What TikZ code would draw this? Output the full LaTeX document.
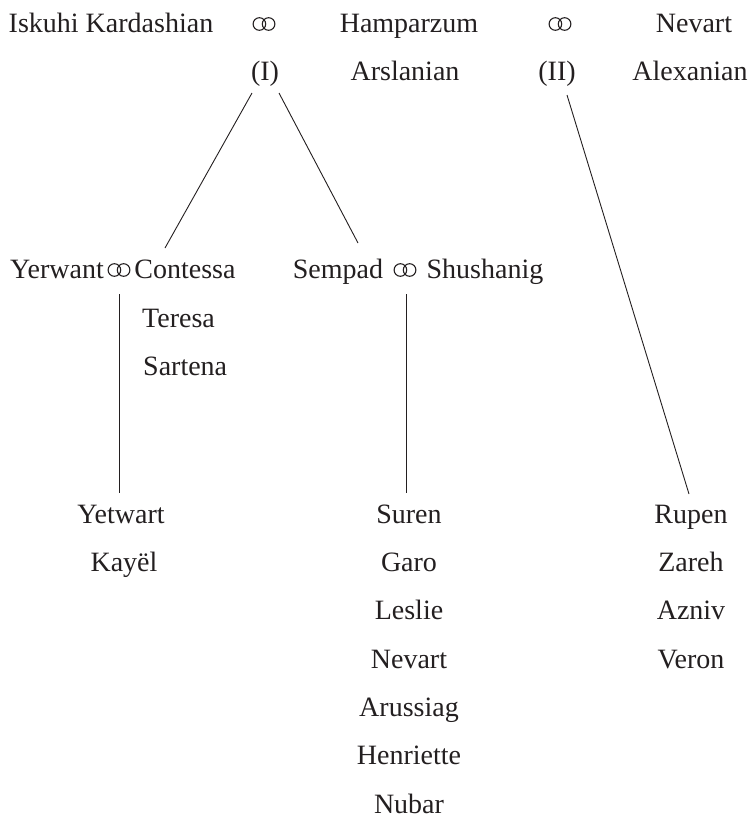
\documentclass[tikz,border=0pt]{standalone}
\usepackage{fontspec}
\setmainfont{Liberation Serif}
\usetikzlibrary{calc}
\definecolor{ink}{HTML}{231F20}
\begin{document}
\begin{tikzpicture}[x=1pt,y=-1pt,
  person/.style={anchor=base,inner sep=0pt,font=\fontsize{28}{30}\selectfont,text=ink},
  lperson/.style={person,anchor=base west},
  wed/.style={anchor=center,inner sep=0pt,minimum width=28pt,minimum height=18pt,
    path picture={\draw[ink,line width=1.1pt]
      ($(path picture bounding box.center)+(-4.6pt,0pt)$) circle (6.3pt)
      ($(path picture bounding box.center)+(4.6pt,0pt)$) circle (6.3pt);}},
  link/.style={draw=ink,line width=0.9pt}]
\useasboundingbox (0,0) rectangle (748,820);
% generation 1
\node[person] (iskuhi) at (111,32) {Iskuhi Kardashian};
\node[wed] (m1) at (264,24) {};
\node[person] (hamp) at (409,32) {Hamparzum};
\node[person] (arsl) at (405,80) {Arslanian};
\node[wed] (m2) at (560,24) {};
\node[person] (nevart1) at (694,32) {Nevart};
\node[person] (alex) at (690,80) {Alexanian};
\node[person] (I) at (265,80) {(I)};
\node[person] (II) at (557,80) {(II)};
% generation 2
\node[person] (yerwant) at (57,278) {Yerwant};
\node[wed] (m3) at (119,270) {};
\node[person] (contessa) at (185,278) {Contessa};
\node[lperson] (teresa) at (142,327) {Teresa};
\node[lperson] (sartena) at (143,375) {Sartena};
\node[person] (sempad) at (338,278) {Sempad};
\node[wed] (m4) at (405,270) {};
\node[person] (shush) at (485,278) {Shushanig};
% generation 3
\node[person] (yetwart) at (121,523) {Yetwart};
\node[person] (kayel) at (124,571) {Kayël};
\node[person] (suren) at (409,523) {Suren};
\node[person] (garo) at (409,571) {Garo};
\node[person] (leslie) at (409,619) {Leslie};
\node[person] (nevart2) at (409,668) {Nevart};
\node[person] (arus) at (409,716) {Arussiag};
\node[person] (henr) at (409,764) {Henriette};
\node[person] (nubar) at (409,813) {Nubar};
\node[person] (rupen) at (691,523) {Rupen};
\node[person] (zareh) at (691,571) {Zareh};
\node[person] (azniv) at (691,619) {Azniv};
\node[person] (veron) at (691,668) {Veron};
% connectors
\draw[link] ($(I.base)+(-13,13)$) -- ($(contessa.base)+(-20,-30)$);
\draw[link] ($(I.base)+(14,13)$) -- ($(sempad.base)+(20,-35)$);
\draw[link] ($(II.base)+(10,15)$) -- ($(rupen.base)+(-2,-29)$);
\draw[link] ($(m3.center)+(0,24)$) -- ($(yetwart.base)+(-2,-30)$);
\draw[link] ($(m4.center)+(1,24)$) -- ($(suren.base)+(-3,-30)$);
\end{tikzpicture}
\end{document}
